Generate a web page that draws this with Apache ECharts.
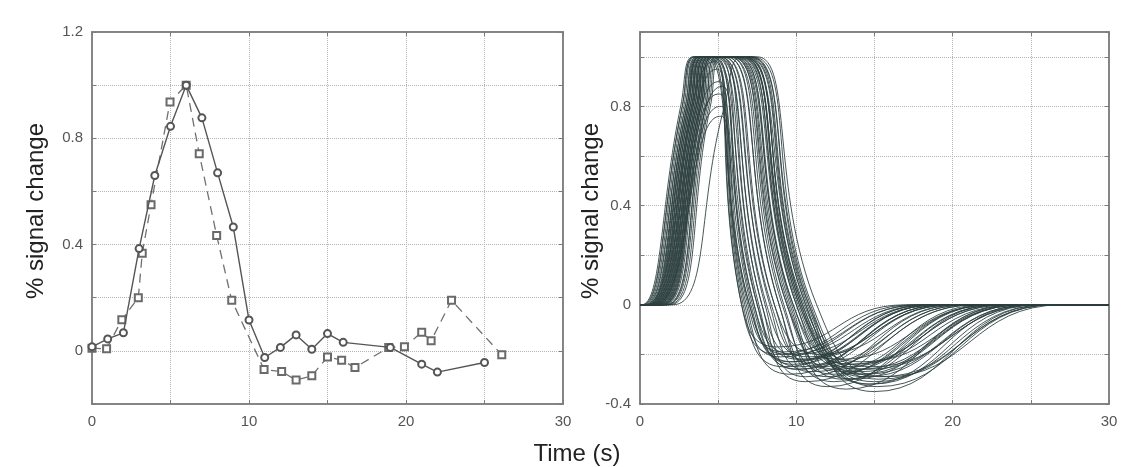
<!DOCTYPE html>
<html>
<head>
<meta charset="utf-8">
<script src="https://cdn.jsdelivr.net/npm/echarts@6/dist/echarts.min.js"></script>
<style>
  html, body { margin: 0; padding: 0; background: #fff; }
  #chart { width: 1136px; height: 467px; }
</style>
</head>
<body>
<div id="chart"></div>
<script>
// left panel: measured response (solid, circles) and model (dashed, squares)
const solidT = [0, 1, 2, 3, 4, 5, 6, 7, 8, 9, 10, 11, 12, 13, 14, 15, 16, 19, 21, 22, 25]
const solidV = [0.015, 0.045, 0.068, 0.385, 0.66, 0.845, 1.0, 0.877, 0.67, 0.466, 0.116, -0.025, 0.013, 0.06, 0.006, 0.065, 0.032, 0.013, -0.05, -0.08, -0.044]
const dashT = [0, 0.93, 1.9, 2.95, 3.2, 3.76, 4.97, 6, 6.83, 7.94, 8.9, 10.96, 12.08, 13, 14, 15, 15.9, 16.75, 18.9, 19.9, 21, 21.6, 22.9, 26.1]
const dashV = [0.01, 0.008, 0.117, 0.2, 0.367, 0.55, 0.937, 1.0, 0.742, 0.434, 0.19, -0.07, -0.078, -0.11, -0.094, -0.023, -0.035, -0.063, 0.013, 0.015, 0.07, 0.038, 0.19, -0.015]

// right panel: key points of each response curve
// onset = leaves 0, rise80 = passes 0.8 going up (null when the curve peaks lower),
// peak = reaches its top, peakEnd = leaves it, zero = crosses 0 going down,
// dip = bottom of the undershoot, end = back at 0
const onsetT = [0.1, 0.15, 0.2, 0.25, 0.3, 0.35, 0.4, 0.45, 0.5, 0.55, 0.6, 0.65, 0.7, 0.75, 0.8,
  0.85, 0.9, 0.95, 1.0, 1.05, 1.1, 1.15, 1.2, 1.25, 1.3, 1.35, 1.4, 1.45, 1.5,
  1.6, 1.65, 1.7, 1.8, 1.9, 2.1,
  0.5, 0.7, 0.9, 1.1, 1.3, 0.6, 0.8, 1.0, 1.2, 1.4,
  0.4, 0.5, 0.6, 0.7, 0.8, 0.9, 1.0]
const rise80T = [2.6, 2.7, 2.7, 2.8, 2.9, 2.9, 3.0, 3.0, 3.1, 3.1, 3.2, 3.2, 3.3, 3.3, 3.4,
  3.4, 3.5, 3.5, 3.6, 3.6, 3.7, 3.7, 3.8, 3.8, 3.9, 3.9, 4.0, 4.0, 4.1,
  4.2, 4.2, 4.3, 4.4, 4.5, 5.4,
  3.0, 3.2, 3.4, 3.6, 3.8, 3.1, 3.3, 3.5, 3.7, 3.9,
  null, null, null, null, null, null, null]
const peakT = [3.4, 3.5, 3.5, 3.6, 3.7, 3.7, 3.8, 3.8, 3.9, 3.9, 4.0, 4.0, 4.1, 4.1, 4.2,
  4.2, 4.3, 4.3, 4.4, 4.4, 4.5, 4.5, 4.6, 4.6, 4.7, 4.7, 4.8, 4.8, 4.9,
  5.0, 5.0, 5.1, 5.2, 5.3, 6.5,
  3.8, 4.0, 4.2, 4.4, 4.6, 3.9, 4.1, 4.3, 4.5, 4.7,
  4.7, 4.9, 5.0, 5.0, 5.1, 5.1, 5.2]
const peakV = [1, 1, 1, 1, 1, 1, 1, 1, 1, 1, 1, 1, 1, 1, 1,
  1, 1, 1, 1, 1, 1, 1, 1, 1, 1, 1, 1, 1, 1,
  1, 1, 1, 1, 1, 1,
  1, 1, 1, 1, 1, 1, 1, 1, 1, 1,
  0.98, 0.95, 0.9, 0.85, 0.8, 0.76, 0.88]
const peakEndT = [4.2, 4.6, 4.4, 4.9, 4.6, 5.1, 4.8, 5.3, 5.0, 5.5, 5.1, 5.7, 5.3, 5.9, 5.5,
  6.1, 5.7, 6.3, 5.9, 6.5, 6.0, 6.6, 6.2, 6.8, 6.4, 7.0, 6.5, 7.2, 6.7,
  6.9, 6.6, 7.0, 6.8, 7.1, 7.5,
  4.4, 4.6, 4.8, 5.0, 5.2, 5.8, 6.0, 6.2, 6.4, 6.6,
  4.9, 5.0, 5.1, 5.1, 5.2, 5.2, 5.3]
const zeroT = [7.0, 7.6, 7.3, 8.0, 7.5, 8.3, 7.8, 8.6, 8.1, 8.9, 8.4, 9.2, 8.6, 9.5, 8.9,
  9.8, 9.1, 10.0, 9.4, 10.2, 9.6, 10.4, 9.8, 10.6, 10.1, 10.8, 10.3, 11.0, 10.5,
  10.7, 10.2, 10.8, 10.4, 10.9, 11.3,
  6.9, 7.1, 7.3, 7.5, 7.8, 9.4, 9.7, 10.0, 10.3, 10.6,
  6.5, 6.5, 6.6, 6.7, 6.8, 7.0, 7.2]
const dipT = [9.4, 10.0, 9.8, 10.6, 10.2, 11.0, 10.6, 11.5, 10.8, 12.0, 11.4, 12.4, 11.6, 12.8, 12.0,
  13.2, 12.4, 13.6, 12.8, 14.0, 13.2, 14.4, 13.6, 14.8, 14.0, 15.0, 14.4, 15.3, 14.8,
  15.0, 14.2, 15.4, 14.6, 15.2, 15.8,
  9.2, 9.6, 9.9, 10.2, 10.6, 12.6, 13.0, 13.4, 14.0, 14.6,
  8.8, 8.8, 9.2, 9.0, 9.6, 9.8, 10.2]
const dipV = [-0.2, -0.26, -0.24, -0.29, -0.22, -0.27, -0.31, -0.25, -0.21, -0.29, -0.24, -0.31, -0.2, -0.27, -0.33,
  -0.25, -0.28, -0.3, -0.22, -0.26, -0.34, -0.29, -0.24, -0.32, -0.27, -0.35, -0.28, -0.3, -0.25,
  -0.31, -0.23, -0.29, -0.26, -0.33, -0.29,
  -0.19, -0.23, -0.2, -0.25, -0.22, -0.26, -0.3, -0.24, -0.28, -0.32,
  -0.17, -0.2, -0.25, -0.21, -0.28, -0.23, -0.26]
const endT = [18.5, 19.5, 19, 20.5, 19, 21, 21.5, 21.5, 20, 22.5, 21, 23, 20.5, 23, 22.5,
  23.5, 22.5, 24, 22.5, 24.5, 24, 25, 24, 25.5, 24.5, 26, 25, 26.5, 25.5,
  26, 24.5, 26.5, 25.5, 26.5, 27,
  18, 18.5, 19, 19.5, 20, 22, 23, 23.5, 24.5, 25,
  17, 17.5, 18.5, 18, 19.5, 19, 20]

const FONT = 'Liberation Sans, Arial, sans-serif'
const FRAME = '#7c7c7c'

function labelEvery(step) {
  return function (v) {
    const k = v / step
    if (Math.abs(k - Math.round(k)) > 1e-6) return ''
    const r = Math.round(v * 10) / 10
    return r === 0 ? '0' : String(r)
  }
}

function xAxisOf(gridIndex, top) {
  return {
    gridIndex: gridIndex,
    type: 'value',
    position: top ? 'top' : 'bottom',
    min: 0,
    max: 30,
    interval: 5,
    axisLine: { onZero: false, lineStyle: { color: FRAME, width: 1.5 } },
    axisTick: { inside: true, length: 4, lineStyle: { color: FRAME } },
    axisLabel: top ? { show: false } : { formatter: labelEvery(10), color: '#555', fontSize: 15, fontFamily: FONT, margin: 10 },
    splitLine: { show: !top, lineStyle: { type: 'dotted', color: '#b4b4b4', width: 1 } }
  }
}

function yAxisOf(gridIndex, min, max, right) {
  return {
    gridIndex: gridIndex,
    type: 'value',
    position: right ? 'right' : 'left',
    min: min,
    max: max,
    interval: 0.2,
    axisLine: { onZero: false, lineStyle: { color: FRAME, width: 1.5 } },
    axisTick: { inside: true, length: 4, lineStyle: { color: FRAME } },
    axisLabel: right ? { show: false } : { formatter: labelEvery(0.4), color: '#555', fontSize: 15, fontFamily: FONT, margin: 9 },
    splitLine: { show: !right, lineStyle: { type: 'dotted', color: '#b4b4b4', width: 1 } }
  }
}

const series = []

series.push({
  type: 'line',
  xAxisIndex: 0,
  yAxisIndex: 0,
  data: dashT.map((t, i) => [t, dashV[i]]),
  symbol: 'emptyRect',
  symbolSize: 7,
  lineStyle: { color: '#707070', width: 1.3, type: [9, 6] },
  itemStyle: { color: '#6a6a6a', borderWidth: 1.2 },
  z: 3
})
series.push({
  type: 'line',
  xAxisIndex: 0,
  yAxisIndex: 0,
  data: solidT.map((t, i) => [t, solidV[i]]),
  symbol: 'emptyCircle',
  symbolSize: 7,
  lineStyle: { color: '#555', width: 1.4 },
  itemStyle: { color: '#555', borderWidth: 1.2 },
  z: 4
})

// one line per curve, smoothed between its key points
onsetT.forEach((t0, i) => {
  const pts = [[0, 0], [t0, 0]]
  if (rise80T[i] !== null) pts.push([rise80T[i], 0.8])
  pts.push([peakT[i], peakV[i]], [peakEndT[i], peakV[i]],
    [zeroT[i], 0], [dipT[i], dipV[i]], [endT[i], 0], [30, 0])
  series.push({
    type: 'line',
    xAxisIndex: 1,
    yAxisIndex: 1,
    silent: true,
    symbol: 'none',
    smooth: 0.5,
    data: pts,
    lineStyle: { color: '#2e4040', width: 1, opacity: 0.88 }
  })
})

const chart = echarts.init(document.getElementById('chart'), null, { renderer: 'canvas' })
chart.setOption({
  backgroundColor: '#fff',
  animation: false,
  grid: [
    { left: 92, top: 32, right: 573, bottom: 63, show: true, borderColor: FRAME, borderWidth: 1.5 },
    { left: 640, top: 32, right: 27, bottom: 63, show: true, borderColor: FRAME, borderWidth: 1.5 }
  ],
  xAxis: [xAxisOf(0, false), xAxisOf(1, false), xAxisOf(0, true), xAxisOf(1, true)],
  yAxis: [yAxisOf(0, -0.2, 1.2, false), yAxisOf(1, -0.4, 1.1, false), yAxisOf(0, -0.2, 1.2, true), yAxisOf(1, -0.4, 1.1, true)],
  graphic: [
    {
      type: 'text', x: 36, y: 211, rotation: Math.PI / 2,
      style: { text: '% signal change', fill: '#222', fontSize: 24, fontFamily: FONT, align: 'center', verticalAlign: 'middle' }
    },
    {
      type: 'text', x: 591, y: 211, rotation: Math.PI / 2,
      style: { text: '% signal change', fill: '#222', fontSize: 24, fontFamily: FONT, align: 'center', verticalAlign: 'middle' }
    },
    {
      type: 'text', x: 577, y: 454,
      style: { text: 'Time (s)', fill: '#222', fontSize: 24, fontFamily: FONT, align: 'center', verticalAlign: 'middle' }
    }
  ],
  series: series
})
window.addEventListener('resize', chart.resize)
</script>
</body>
</html>
